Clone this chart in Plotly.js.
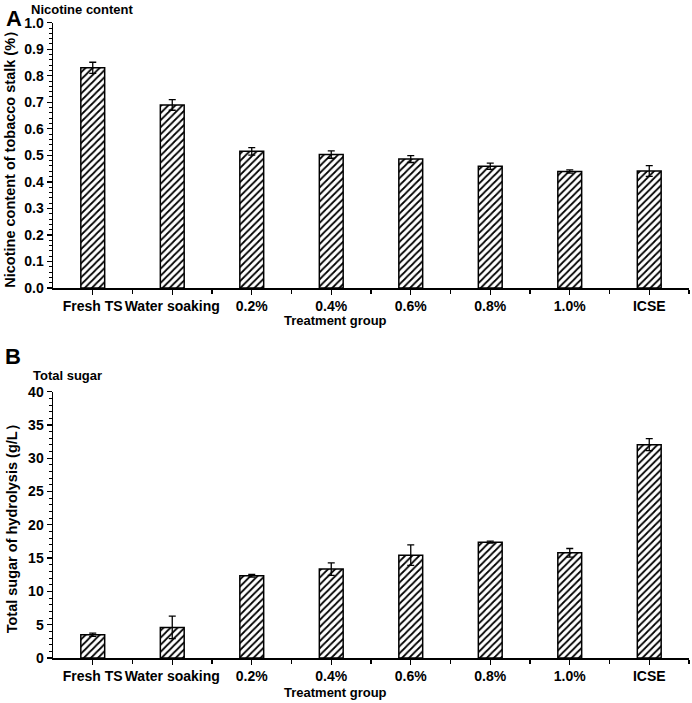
<!DOCTYPE html>
<html>
<head>
<meta charset="utf-8">
<script src="https://cdn.plot.ly/plotly-3.0.1.min.js"></script>
<style>html,body{margin:0;padding:0;background:#fff;}#chart{width:692px;height:703px;}</style>
</head>
<body>
<div id="chart"></div>
<script>
const categories = ["Fresh TS", "Water soaking", "0.2%", "0.4%", "0.6%", "0.8%", "1.0%", "ICSE"];
const nicotine = [0.83, 0.69, 0.515, 0.503, 0.486, 0.459, 0.439, 0.441];
const nicotineErr = [0.021, 0.02, 0.014, 0.014, 0.013, 0.012, 0.006, 0.02];
const sugar = [3.5, 4.6, 12.35, 13.35, 15.45, 17.4, 15.8, 32.05];
const sugarErr = [0.25, 1.7, 0.2, 0.95, 1.55, 0.15, 0.65, 0.9];
const xIdx = categories.map((c, i) => i);

const font = {family: "Liberation Sans, Arial, sans-serif", color: "#000"};
const barMarker = {
  color: "#fff",
  line: {color: "#000", width: 1.5},
  pattern: {shape: "/", fgcolor: "#000", bgcolor: "#fff", size: 5, solidity: 0.35}
};
const errStyle = (arr) => ({type: "data", array: arr, visible: true, color: "#000", thickness: 1.3, width: 3.5});

const traces = [
  {type: "bar", x: xIdx, y: nicotine, error_y: errStyle(nicotineErr), marker: barMarker, width: 0.3, xaxis: "x", yaxis: "y", hoverinfo: "y"},
  {type: "bar", x: xIdx, y: sugar, error_y: errStyle(sugarErr), marker: barMarker, width: 0.3, xaxis: "x2", yaxis: "y2", hoverinfo: "y"}
];

const xCommon = {
  range: [-0.5, 7.5],
  tickmode: "array",
  tickvals: xIdx,
  ticktext: categories,
  tickangle: 0,
  ticks: "outside", ticklen: 5, tickwidth: 1.3, tickcolor: "#000",
  minor: {tickmode: "array", tickvals: [0.5,1.5,2.5,3.5,4.5,5.5,6.5,7.5], ticks: "outside", ticklen: 4, tickwidth: 1.3, tickcolor: "#000"},
  showline: true, linecolor: "#000", linewidth: 1.5,
  showgrid: false, zeroline: false,
  tickfont: Object.assign({size: 14, weight: "bold"}, font),
  automargin: false, fixedrange: true
};
const yCommon = {
  ticks: "outside", ticklen: 5, tickwidth: 1.3, tickcolor: "#000",
  showline: true, linecolor: "#000", linewidth: 1.5,
  showgrid: false, zeroline: false,
  tickfont: Object.assign({size: 14, weight: "bold"}, font),
  automargin: false, fixedrange: true
};

const layout = {
  width: 692, height: 703,
  margin: {l: 0, r: 0, t: 0, b: 0},
  paper_bgcolor: "#fff", plot_bgcolor: "#fff",
  showlegend: false,
  font: font,
  xaxis: Object.assign({}, xCommon, {domain: [53/692, 689/692], anchor: "y"}),
  xaxis2: Object.assign({}, xCommon, {domain: [53/692, 689/692], anchor: "y2"}),
  yaxis: Object.assign({}, yCommon, {
    domain: [(703-288)/703, (703-22.7)/703], anchor: "x",
    range: [0, 1], dtick: 0.1, tickformat: ".1f",
    minor: {dtick: 0.02, ticks: "outside", ticklen: 3, tickwidth: 1, tickcolor: "#000"},
    title: {text: "<b>Nicotine content of tobacco stalk (%）</b>", font: Object.assign({size: 14.5}, font), standoff: 5}
  }),
  yaxis2: Object.assign({}, yCommon, {
    domain: [(703-658)/703, (703-391.7)/703], anchor: "x2",
    range: [0, 40], dtick: 5,
    minor: {dtick: 1, ticks: "outside", ticklen: 3, tickwidth: 1, tickcolor: "#000"},
    title: {text: "<b>Total sugar of hydrolysis (g/L）</b>", font: Object.assign({size: 14.5}, font), standoff: 7}
  }),
  annotations: [
    {text: "<b>A</b>", x: 4/692, y: 1 - 4/703, xref: "paper", yref: "paper", xanchor: "left", yanchor: "top", showarrow: false, font: Object.assign({size: 22}, font)},
    {text: "<b>Nicotine content</b>", x: 29/692, y: 1, xref: "paper", yref: "paper", xanchor: "left", yanchor: "top", showarrow: false, font: Object.assign({size: 13}, font)},
    {text: "<b>Treatment group</b>", x: 335/692, y: 1 - 320/703, xref: "paper", yref: "paper", xanchor: "center", yanchor: "middle", showarrow: false, font: Object.assign({size: 13}, font)},
    {text: "<b>B</b>", x: 3/692, y: 1 - 342/703, xref: "paper", yref: "paper", xanchor: "left", yanchor: "top", showarrow: false, font: Object.assign({size: 22}, font)},
    {text: "<b>Total sugar</b>", x: 31/692, y: 1 - 366/703, xref: "paper", yref: "paper", xanchor: "left", yanchor: "top", showarrow: false, font: Object.assign({size: 13}, font)},
    {text: "<b>Treatment group</b>", x: 335/692, y: 1 - 692/703, xref: "paper", yref: "paper", xanchor: "center", yanchor: "middle", showarrow: false, font: Object.assign({size: 13}, font)}
  ]
};

Plotly.newPlot("chart", traces, layout, {displayModeBar: false, staticPlot: true});
</script>
</body>
</html>
